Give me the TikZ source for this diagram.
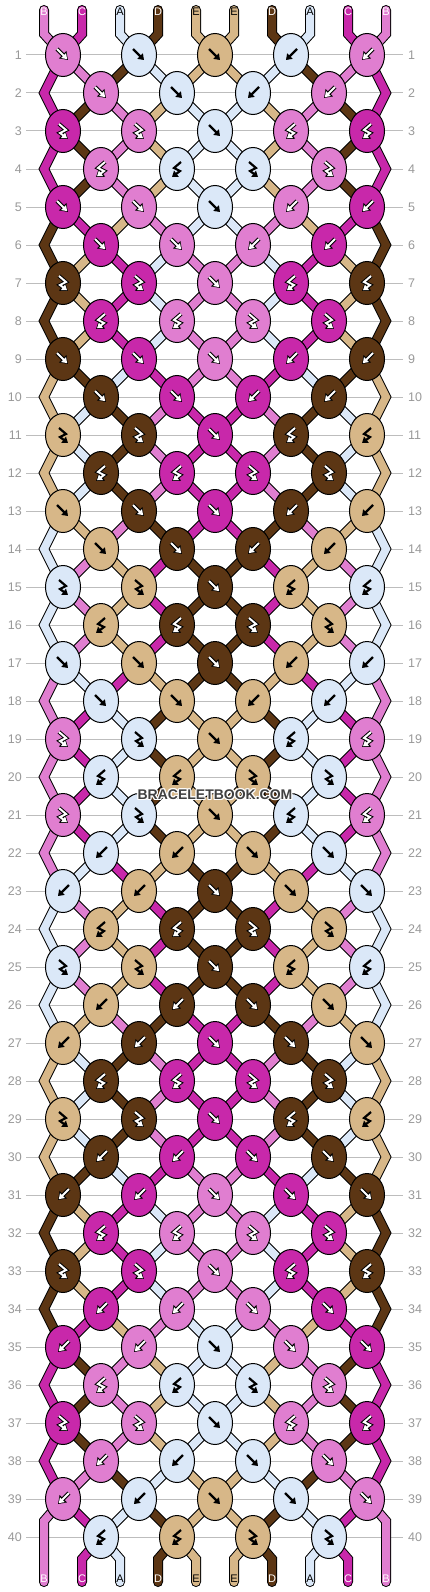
\documentclass[tikz,border=0pt]{standalone}
\usepackage{fontspec}
\setmainfont{Liberation Sans}
\usetikzlibrary{arrows.meta}
\definecolor{cA}{HTML}{DBE8F8}
\definecolor{cB}{HTML}{E07ED0}
\definecolor{cC}{HTML}{C828AA}
\definecolor{cD}{HTML}{5C3614}
\definecolor{cE}{HTML}{D7B788}
\definecolor{gridgray}{HTML}{BDBDBD}
\definecolor{numgray}{HTML}{999999}
\definecolor{wmgray}{HTML}{404040}
\def\tcA{black}\def\tcB{white}\def\tcC{white}\def\tcD{white}\def\tcE{black}
\tikzset{
  strandout/.style={draw=black,line width=10,line cap=round,line join=miter},
  strandin/.style={line width=8,line cap=round,line join=miter},
  knotst/.style={draw=black,line width=1},
  arrlight/.style={draw=black,line width=2.2,line join=miter,-{Triangle[length=5.5pt,width=7.5pt]}},
  arrout/.style={draw=black,line width=4,line join=miter,-{Triangle[length=7.5pt,width=10pt]}},
  arrin/.style={draw=white,line width=2,line join=miter,shorten >=1.2pt,-{Triangle[length=5pt,width=6.5pt]}},
  rownum/.style={text=numgray,font=\fontsize{12.5}{13}\selectfont,inner sep=0pt},
  strlabel/.style={font=\fontsize{11}{11}\selectfont,inner sep=0pt},
  wm/.style={font=\fontsize{14}{14}\selectfont\bfseries,inner sep=0pt}
}
\def\myRows{
 {f,f,f,b,b},{f,f,b,b},{F,F,f,B,B},{B,B,F,F},
 {f,f,f,b,b},{f,f,b,b},{F,F,f,B,B},{B,B,F,F},
 {f,f,f,b,b},{f,f,b,b},{F,F,f,B,B},{B,B,F,F},
 {f,f,f,b,b},{f,f,b,b},{F,F,f,B,B},{B,B,F,F},
 {f,f,f,b,b},{f,f,b,b},{F,F,f,B,B},{B,B,F,F},
 {F,F,f,B,B},{b,b,f,f},{b,b,f,f,f},{B,B,F,F},
 {F,F,f,B,B},{b,b,f,f},{b,b,f,f,f},{B,B,F,F},
 {F,F,f,B,B},{b,b,f,f},{b,b,f,f,f},{B,B,F,F},
 {F,F,f,B,B},{b,b,f,f},{b,b,f,f,f},{B,B,F,F},
 {F,F,f,B,B},{b,b,f,f},{b,b,f,f,f},{B,B,F,F}}
\newcommand\myInit{%
  \foreach \p/\l in {0/B,1/C,2/A,3/D,4/E,5/E,6/D,7/A,8/C,9/B}{
    \expandafter\xdef\csname sS\p\endcsname{\l}
    \pgfmathtruncatemacro\xp{44+38*\p}
    \expandafter\xdef\csname lx\p\endcsname{\xp}
    \expandafter\xdef\csname ly\p\endcsname{10}
  }%
}
\newcommand\myseg[4]{%
  \edef\myXa{\csname lx#2\endcsname}\edef\myYa{\csname ly#2\endcsname}%
  \ifnum\myYa=10\relax
    \edef\mySegPath{(\myXa,10) -- (\myXa,34) -- (#3,#4)}%
  \else\ifnum\myXa=#3\relax
    \ifnum\myXa<215\relax \def\myXe{44}\else\def\myXe{386}\fi
    \edef\mySegPath{(\myXa,\myYa) -- (\myXe,\the\numexpr(\myYa+#4)/2\relax) -- (#3,#4)}%
  \else
    \edef\mySegPath{(\myXa,\myYa) -- (#3,#4)}%
  \fi\fi
  \edef\mySegCmd{\noexpand\draw[strandout] \mySegPath; \noexpand\draw[strandin,draw=c#1] \mySegPath;}\mySegCmd
  \expandafter\xdef\csname lx#2\endcsname{#3}%
  \expandafter\xdef\csname ly#2\endcsname{#4}%
}
\newcommand\myglyph[4]{%
  \if#1f\edef\myGp{(#2-6,#3-6) -- (#2+5,#3+5)}\fi
  \if#1b\edef\myGp{(#2+6,#3-6) -- (#2-5,#3+5)}\fi
  \if#1F\edef\myGp{(#2-4,#3-7) -- (#2+3,#3-1) -- (#2-3,#3+2) -- (#2+5,#3+8)}\fi
  \if#1B\edef\myGp{(#2+4,#3-7) -- (#2-3,#3-1) -- (#2+3,#3+2) -- (#2-5,#3+8)}\fi
  \def\myIsLt{0}%
  \if#4A\def\myIsLt{1}\fi
  \if#4E\def\myIsLt{1}\fi
  \ifnum\myIsLt=1\relax
    \edef\myGCmd{\noexpand\draw[arrlight] \myGp;}\myGCmd
  \else
    \edef\myGCmd{\noexpand\draw[arrout] \myGp; \noexpand\draw[arrin] \myGp;}\myGCmd
  \fi
}
\newcommand\myknot[5]{%
  \edef\myLc{\csname sS#2\endcsname}%
  \edef\myRc{\csname sS#3\endcsname}%
  \ifnum\myMode=0\relax
    \myseg{\myLc}{#2}{#4}{#5}%
    \myseg{\myRc}{#3}{#4}{#5}%
  \fi
  \def\mySw{0}%
  \if#1f\let\myKc\myLc\def\mySw{1}\fi
  \if#1b\let\myKc\myRc\def\mySw{1}\fi
  \if#1F\let\myKc\myLc\fi
  \if#1B\let\myKc\myRc\fi
  \ifnum\mySw=1\relax
    \expandafter\xdef\csname sS#2\endcsname{\myRc}%
    \expandafter\xdef\csname sS#3\endcsname{\myLc}%
  \fi
  \ifnum\myMode=1\relax
    \edef\myKcol{c\myKc}%
    \draw[knotst,fill=\myKcol] (#4,#5) ellipse [x radius=17.5,y radius=21.5];
    \myglyph{#1}{#4}{#5}{\myKc}%
  \fi
}
\newcommand\myPass{%
  \foreach \types [count=\r] in \myRows {
    \pgfmathtruncatemacro\yy{55+(\r-1)*38}
    \ifodd\r\relax\def\kx{63}\def\kp{0}\else\def\kx{101}\def\kp{1}\fi
    \foreach \t [count=\j from 0] in \types {
      \pgfmathtruncatemacro\xx{\kx+76*\j}
      \pgfmathtruncatemacro\lp{\kp+2*\j}
      \pgfmathtruncatemacro\rp{\lp+1}
      \edef\myKCmd{\noexpand\myknot{\t}{\lp}{\rp}{\xx}{\yy}}\myKCmd
    }
  }%
}
\begin{document}
\begin{tikzpicture}[x=1pt,y=-1pt]
\useasboundingbox (0,0) rectangle (430,1592);
\fill[white] (0,0) rectangle (430,1592);
% row lines and numbers
\foreach \r in {1,...,40}{
  \pgfmathtruncatemacro\yy{55+(\r-1)*38}
  \draw[gridgray,line width=1] (26,\yy) -- (403,\yy);
  \node[rownum,anchor=east] (ln\r) at (22,\yy) {\r};
  \node[rownum,anchor=west] (rn\r) at (408,\yy) {\r};
}
% pass 0: strands
\gdef\myMode{0}
\myInit
\myPass
\foreach \p in {0,...,9}{
  \edef\myXa{\csname lx\p\endcsname}
  \edef\myYa{\csname ly\p\endcsname}
  \edef\myL{\csname sS\p\endcsname}
  \pgfmathtruncatemacro\xp{44+38*\p}
  \pgfmathtruncatemacro\yb{\myYa+22}
  \edef\myBCmd{\noexpand\draw[strandout] (\myXa,\myYa) -- (\xp,\yb) -- (\xp,1582); \noexpand\draw[strandin,draw=c\myL] (\myXa,\myYa) -- (\xp,\yb) -- (\xp,1582);}\myBCmd
  \edef\myTc{\csname tc\myL\endcsname}
  \node[strlabel,text=\myTc] (bot\p) at (\xp,1579) {\myL};
}
% top labels
\foreach \p/\l in {0/B,1/C,2/A,3/D,4/E,5/E,6/D,7/A,8/C,9/B}{
  \pgfmathtruncatemacro\xp{44+38*\p}
  \edef\myTc{\csname tc\l\endcsname}
  \node[strlabel,text=\myTc] (top\p) at (\xp,12) {\l};
}
% pass 1: knots
\gdef\myMode{1}
\myInit
\myPass
% watermark
\foreach \dx/\dy in {-1/-1,-1/0,-1/1,0/-1,0/1,1/-1,1/0,1/1}{
  \node[wm,text=white] at (215+\dx,795+\dy) {BRACELETBOOK.COM};
}
\node[wm,text=wmgray] (wmark) at (215,795) {BRACELETBOOK.COM};
\end{tikzpicture}
\end{document}
